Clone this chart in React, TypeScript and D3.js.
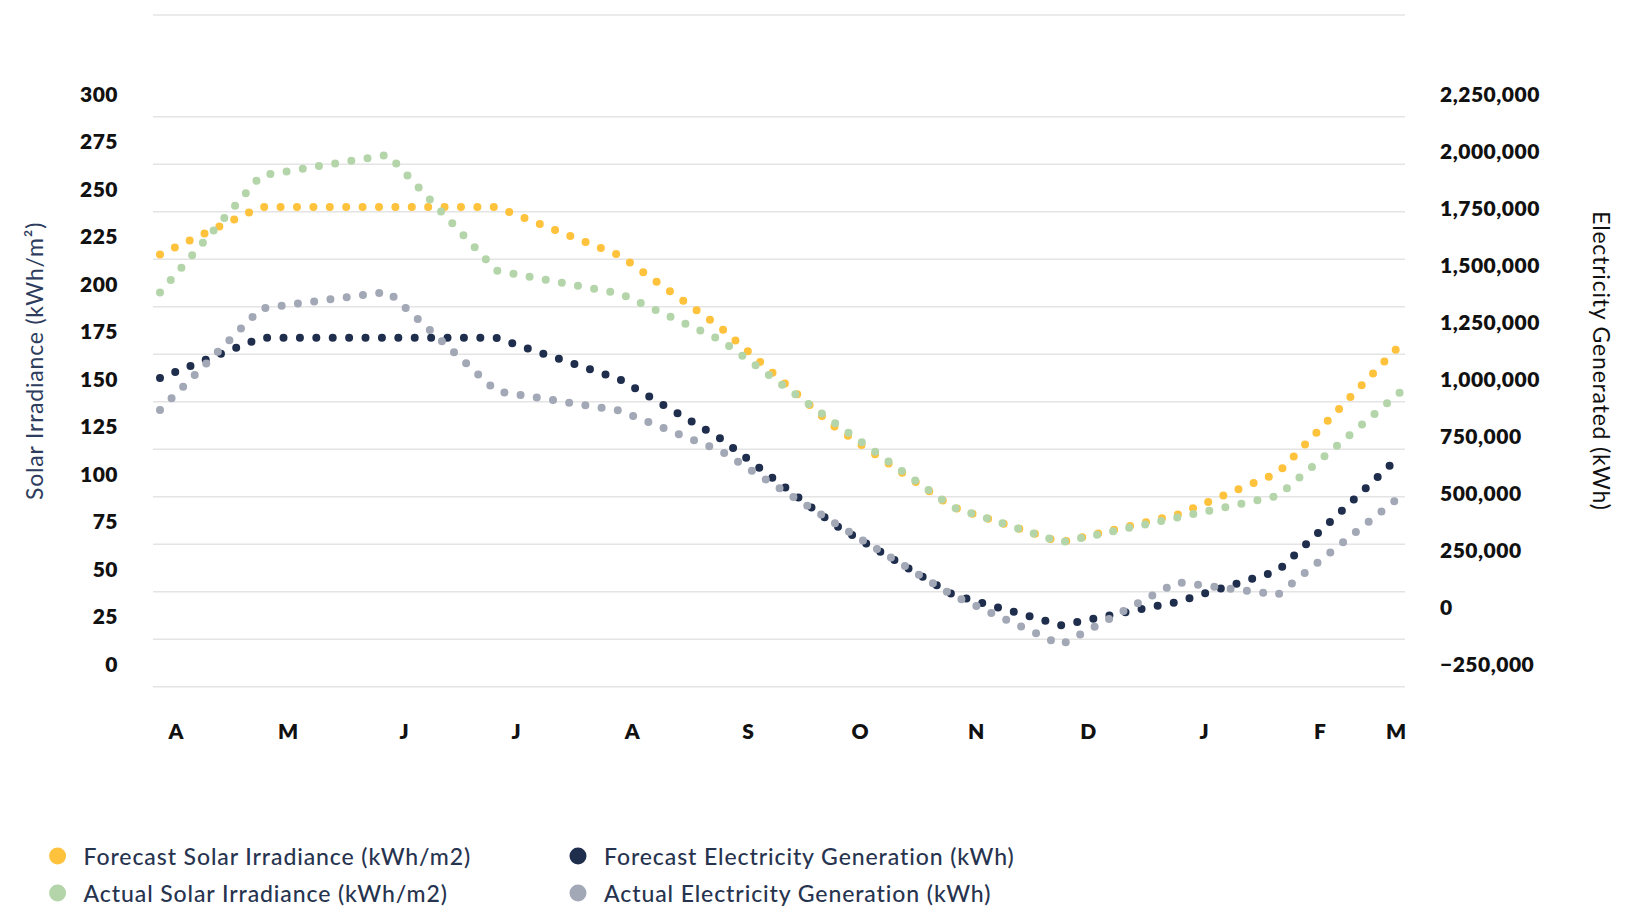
import * as d3 from "d3";

// dates of the monthly readings (x positions come from the time scale)
const readingDates = [
  "2022-03-28", "2022-04-24", "2022-05-28", "2022-06-26", "2022-07-29", "2022-08-25",
  "2022-09-24", "2022-10-26", "2022-11-24", "2022-12-25", "2023-01-21", "2023-02-23",
];

// kWh/m2 (left axis)
const forecastIrradiance = [215, 240, 240, 240, 214.5, 176.5, 125, 82, 63.5, 78, 100, 168];
const actualIrradiance = [195, 256.5, 267.5, 206.5, 194.5, 170, 127, 82, 63.5, 76.5, 88, 143];

// kWh (right axis)
const forecastGeneration = [1000000, 1176000, 1176000, 1176000, 994000, 734000, 361000, 50000, -84000, 17500, 154000, 664000];
const actualGeneration = [860000, 1305000, 1378000, 942000, 857000, 680000, 368000, 47000, -170000, 104000, 50000, 484000];

const leftTicks = [0, 25, 50, 75, 100, 125, 150, 175, 200, 225, 250, 275, 300];
const rightTicks = [-250000, 0, 250000, 500000, 750000, 1000000, 1250000, 1500000, 1750000, 2000000, 2250000];

const seriesNames = [
  "Forecast Solar Irradiance (kWh/m2)",
  "Actual Solar Irradiance (kWh/m2)",
  "Forecast Electricity Generation (kWh)",
  "Actual Electricity Generation (kWh)",
];
const seriesColors = ["#ffc23c", "#b4d5aa", "#1f2e4d", "#a3a8b6"];

const width = 1643;
const height = 908;
const gridLeft = 153;
const gridRight = 1405;
const gridTop = 15;
const font = "Lato, 'Open Sans', sans-serif";

export default function App() {
  const parse = d3.timeParse("%Y-%m-%d");
  const dates = readingDates.map(d => parse(d) as Date);

  const x = d3.scaleTime()
    .domain([dates[0], dates[dates.length - 1]])
    .range([160, 1401.3]);

  const yLeft = d3.scaleLinear().domain([0, 300]).range([663, 93]);
  const yRight = d3.scaleLinear().domain([-250000, 2250000]).range([663, 93]);

  const halfStep = (yLeft(0) - yLeft(25)) / 2;
  const titleY = yLeft(159);

  const months = d3.timeMonth.range(new Date(2022, 3, 1), new Date(2023, 2, 2));
  const monthLetter = (d: Date) => d3.timeFormat("%B")(d)[0];

  const lineLeft = d3.line<number>()
    .x((_, i) => x(dates[i]))
    .y(v => yLeft(v));
  const lineRight = d3.line<number>()
    .x((_, i) => x(dates[i]))
    .y(v => yRight(v));

  const paths = [
    lineLeft(forecastIrradiance),
    lineLeft(actualIrradiance),
    lineRight(forecastGeneration),
    lineRight(actualGeneration),
  ];

  const fmt = d3.format(",");

  return (
    <svg
      width={width}
      height={height}
      style={{ position: "absolute", left: 0, top: 0, display: "block", background: "#fff" }}
    >
      {/* grid */}
      <line x1={gridLeft} x2={gridRight} y1={gridTop} y2={gridTop} stroke="#e4e4e4" strokeWidth={1.5} />
      {leftTicks.map(v => (
        <line
          key={"g" + v}
          x1={gridLeft}
          x2={gridRight}
          y1={yLeft(v) + halfStep}
          y2={yLeft(v) + halfStep}
          stroke="#e4e4e4"
          strokeWidth={1.5}
        />
      ))}

      {/* left axis */}
      {leftTicks.map(v => (
        <text
          key={"l" + v}
          x={118}
          y={yLeft(v)}
          textAnchor="end"
          dominantBaseline="central"
          fontFamily={font}
          fontWeight={800}
          fontSize={21}
          letterSpacing={0.5}
          fill="#111"
        >
          {v}
        </text>
      ))}
      <text
        transform={`translate(43,${titleY}) rotate(-90)`}
        textAnchor="middle"
        fontFamily={font}
        fontSize={23}
        letterSpacing={0.8}
        fill="#2e3d5e"
      >
        Solar Irradiance (kWh/m²)
      </text>

      {/* right axis */}
      {rightTicks.map(v => (
        <text
          key={"r" + v}
          x={1440}
          y={yRight(v)}
          textAnchor="start"
          dominantBaseline="central"
          fontFamily={font}
          fontWeight={800}
          fontSize={21}
          letterSpacing={0.5}
          fill="#111"
        >
          {fmt(v)}
        </text>
      ))}
      <text
        transform={`translate(1593,${titleY}) rotate(90)`}
        textAnchor="middle"
        fontFamily={font}
        fontSize={23}
        letterSpacing={0.8}
        fill="#111"
      >
        Electricity Generated (kWh)
      </text>

      {/* bottom axis */}
      {months.map((d, i) => (
        <text
          key={"m" + i}
          x={Math.min(x(d) + 1, gridRight - 9)}
          y={730}
          textAnchor="middle"
          dominantBaseline="central"
          fontFamily={font}
          fontWeight={800}
          fontSize={21}
          fill="#111"
        >
          {monthLetter(d)}
        </text>
      ))}

      {/* dotted series */}
      {paths.map((p, i) => (
        <path
          key={"s" + i}
          d={p || ""}
          fill="none"
          stroke={seriesColors[i]}
          strokeWidth={8}
          strokeLinecap="round"
          strokeDasharray="0 16.4"
        />
      ))}

      {/* legend */}
      {seriesNames.map((name, i) => {
        const col = i < 2 ? 0 : 1;
        const row = i % 2;
        const lx = col === 0 ? 57.6 : 578;
        const ly = 856 + row * 37;
        return (
          <g key={"lg" + i} transform={`translate(${lx},${ly})`}>
            <circle r={8.5} fill={seriesColors[i]} />
            <text
              x={26}
              y={0}
              dominantBaseline="central"
              fontFamily={font}
              fontWeight={500}
              fontSize={23}
              letterSpacing={0.9}
              fill="#27344f"
            >
              {name}
            </text>
          </g>
        );
      })}
    </svg>
  );
}
